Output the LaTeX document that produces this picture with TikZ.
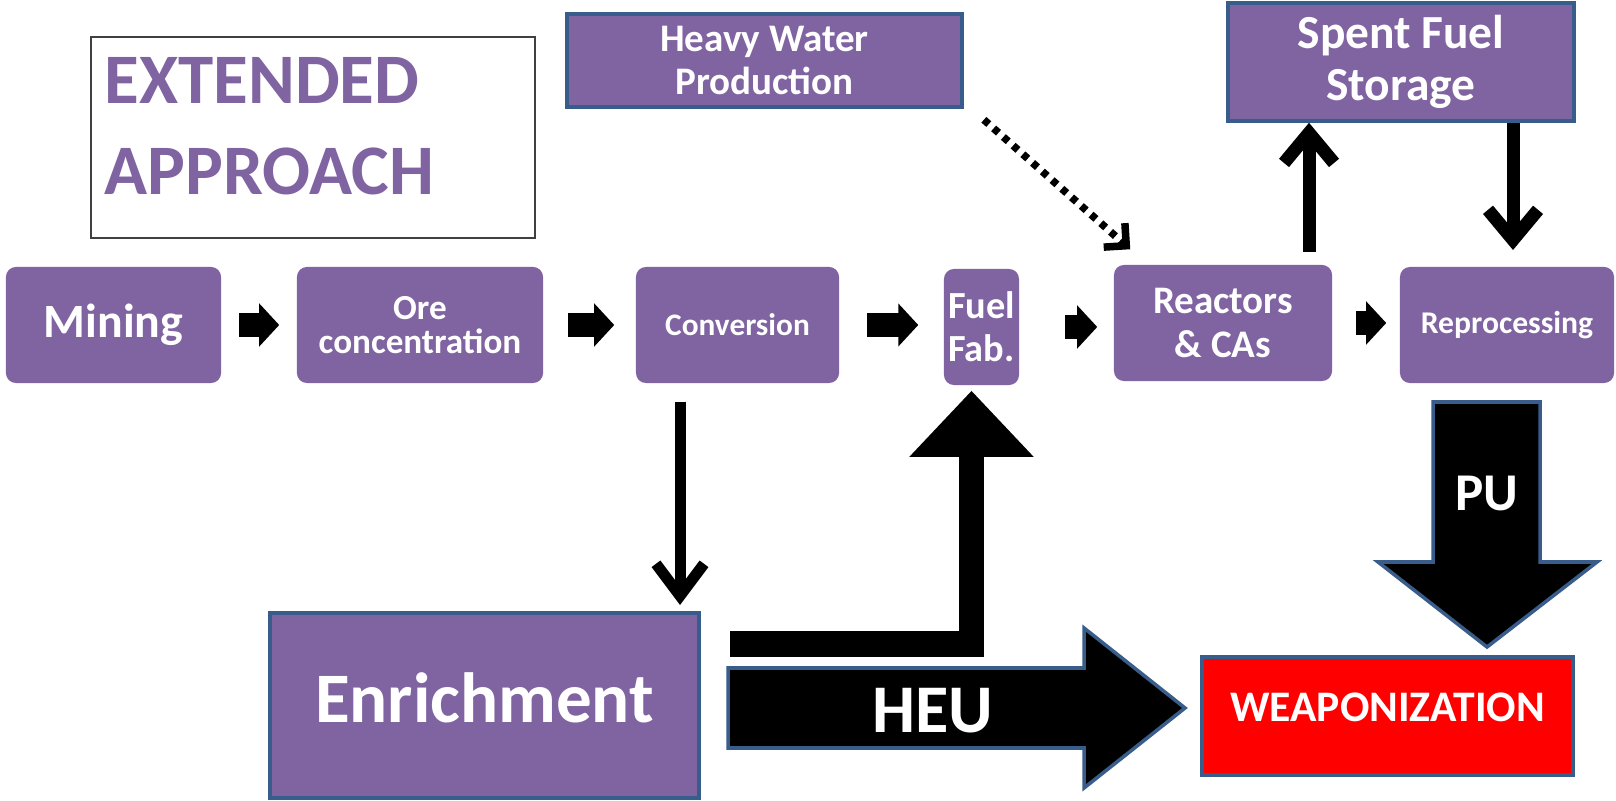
\documentclass[tikz,border=0pt]{standalone}
\usepackage{fontspec}
\setmainfont{Carlito}
\usetikzlibrary{arrows.meta,calc}

\definecolor{stagepurple}{HTML}{8064A2}
\definecolor{edgeblue}{HTML}{385D8A}
\definecolor{weapred}{HTML}{FF0000}

\tikzset{
  fsz/.style 2 args={font=\bfseries\fontsize{#1}{#2}\selectfont},
  stage/.style={fill=stagepurple, rounded corners=0.1cm, text=white, align=center, minimum height=1.16cm, inner sep=0pt},
  plantbox/.style={fill=stagepurple, draw=edgeblue, line width=1pt, text=white, align=center, inner sep=0pt},
  notebox/.style={draw=black!75, line width=0.6pt, inner sep=0pt},
  notetext/.style={text=stagepurple, align=left, inner sep=0pt},
  flowtext/.style={text=white, inner sep=0pt},
  stepflow/.style={line width=0.24cm, -{Triangle[length=0.2cm,width=0.42cm]}},
  dotflow/.style={line width=0.075cm, dash pattern=on 0.065cm off 0.065cm, -{Straight Barb[length=0.16cm,width=0.32cm]}},
  barbflow/.style={line width=0.13cm, -{Straight Barb[length=0.3cm,width=0.5cm]}},
  thinflow/.style={line width=0.11cm, -{Straight Barb[length=0.32cm,width=0.48cm]}},
  heuflow/.style={line width=0.25cm, -{Triangle[length=0.66cm,width=1.2cm]}},
  bigflow/.style={fill=black, draw=edgeblue, line width=1pt, line join=miter}
}

\begin{document}
\begin{tikzpicture}[x=0.01cm,y=-0.01cm]
\useasboundingbox[fill=white] (0,0) rectangle (1616,801);

% title box
\node[notebox, minimum width=4.44cm, minimum height=2.01cm] (note) at (313,137.5) {};
\node[notetext, fsz={20.2}{26}, anchor=west] (notelbl) at (104,126) {EXTENDED\\APPROACH};

% fuel cycle stages
\node[stage, fsz={13.6}{16}, minimum width=2.15cm] (mining) at (113.5,325) {Mining};
\node[stage, fsz={10}{9.6}, minimum width=2.46cm] (ore) at (420,325) {Ore\\concentration};
\node[stage, fsz={8.9}{11}, minimum width=2.03cm] (conv) at (737.5,325) {Conversion};
\node[stage, fsz={10.9}{12.3}, minimum width=0.75cm] (fab) at (981.5,327) {Fuel\\Fab.};
\node[stage, fsz={11.1}{12.6}, minimum width=2.18cm] (reac) at (1223,323) {Reactors\\\& CAs};
\node[stage, fsz={9}{11}, minimum width=2.14cm] (repro) at (1507,325) {Reprocessing};

% side plants
\node[plantbox, fsz={11.1}{12}, minimum width=3.95cm, minimum height=0.93cm] (hw) at (764.5,60.5) {Heavy Water\\Production};
\node[plantbox, fsz={13.5}{15}, minimum width=3.46cm, minimum height=1.18cm] (sf) at (1401,62) {Spent Fuel\\Storage};
\node[plantbox, fsz={20.2}{24}, minimum width=4.29cm, minimum height=1.85cm, text depth=0.16cm] (enrich) at (484.5,705.5) {Enrichment};
\node[plantbox, fill=weapred, fsz={12.4}{14}, minimum width=3.71cm, minimum height=1.18cm, text depth=0.18cm] (weap) at (1387.5,716) {WEAPONIZATION};

% main chain
\draw[stepflow, shorten <=0.17cm, shorten >=0.17cm] (mining.east) -- (mining.east -| ore.west);
\draw[stepflow, shorten <=0.24cm, shorten >=0.21cm] (ore.east) -- (ore.east -| conv.west);
\draw[stepflow, shorten <=0.27cm, shorten >=0.25cm] (conv.east) -- (conv.east -| fab.west);
\draw[stepflow, shorten <=0.45cm, shorten >=0.16cm] (fab.east) -- (fab.east -| reac.west);
\draw[stepflow, shorten <=0.23cm, shorten >=0.13cm] (reac.east) -- (reac.east -| repro.west);

\draw[dotflow] ([shift={(20,11)}]hw.south east) -- ([shift={(17,-15)}]reac.north west);

\coordinate (upfoot) at (1309,252);
\coordinate (downfoot) at (1513,250);
\draw[barbflow] (upfoot) -- (upfoot |- sf.south);
\draw[barbflow] (downfoot |- sf.south) -- (downfoot);

\coordinate (convfoot) at (680,605);
\draw[thinflow, shorten <=0.18cm] (convfoot |- conv.south) -- (convfoot);

\coordinate (lfoot) at (730,644);
\draw[heuflow] (lfoot) -| ([xshift=-0.1cm,yshift=-0.05cm]fab.south);

% weapon routes
\draw[bigflow] (728,668) -- (1084,668) -- (1084,628) -- (1185,708) -- (1084,788) -- (1084,748) -- (728,748) -- cycle;
\node[flowtext, fsz={19.4}{22}] (heulbl) at (933,711) {HEU};

\draw[bigflow] (1433,402) -- (1540,402) -- (1540,562) -- (1597,562) -- (1487,647) -- (1378,562) -- (1433,562) -- cycle;
\node[flowtext, fsz={15.1}{18}] (pulbl) at (1487,493) {PU};
\end{tikzpicture}
\end{document}
